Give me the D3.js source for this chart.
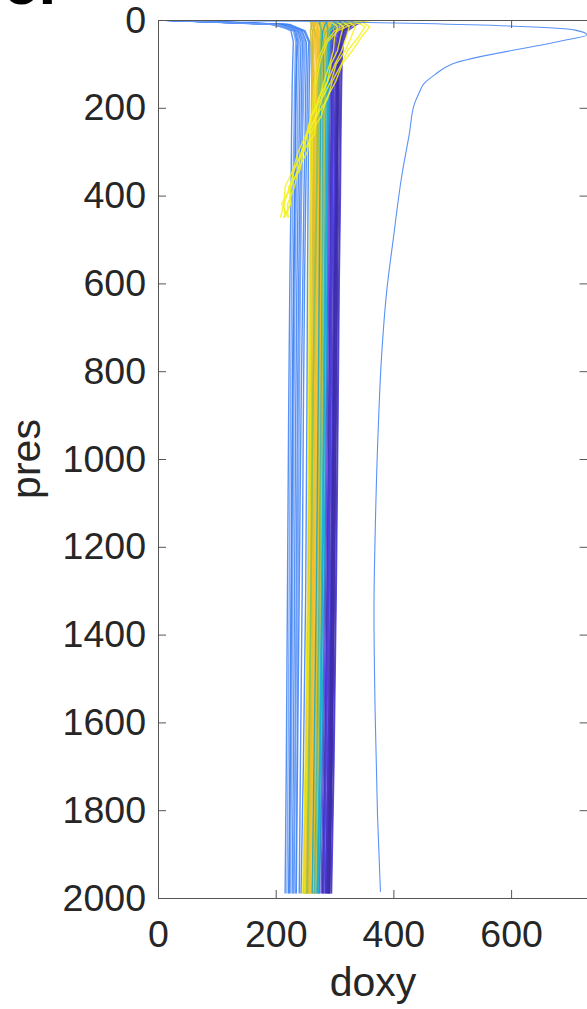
<!DOCTYPE html>
<html>
<head>
<meta charset="utf-8">
<script src="https://cdn.jsdelivr.net/npm/d3@7"></script>
<style>
  body { margin: 0; background: #fff; }
  svg { display: block; font-family: "Liberation Sans", Arial, Helvetica, sans-serif; }
</style>
</head>
<body>
<svg id="chart" width="587" height="1009"></svg>
<script>
// pressure levels (dbar) for the full depth profiles
var PRES = [0, 10, 25, 50, 90, 150, 250, 400, 600, 900, 1300, 1700, 1990];

// doxy values, one row per profile
var BLUE = [
  [2, 205, 226, 230, 229, 228, 227, 226, 224, 222, 220, 218, 216],
  [5, 212, 232, 236, 235, 234, 233, 232, 230, 228, 226, 224, 222],
  [0, 200, 236, 240, 239, 238, 237, 235, 233, 231, 229, 227, 225],
  [8, 215, 238, 243, 242, 241, 240, 238, 236, 234, 232, 230, 228],
  [3, 190, 240, 246, 245, 244, 243, 241, 239, 237, 235, 233, 231],
  [10, 218, 243, 250, 249, 248, 246, 244, 242, 240, 238, 236, 234],
  [0, 208, 245, 252, 252, 251, 250, 248, 246, 243, 240, 237, 235],
  [6, 220, 248, 256, 255, 254, 253, 251, 249, 247, 245, 242, 240],
  [1, 196, 230, 234, 233, 232, 231, 229, 227, 225, 223, 221, 219],
  [12, 224, 250, 258, 258, 257, 256, 255, 254, 253, 251, 247, 243],
  [4, 210, 234, 238, 236, 235, 234, 233, 231, 229, 227, 225, 223],
  [0, 202, 242, 248, 247, 246, 245, 243, 241, 238, 236, 233, 230]
];

var INDIGO = [
  [340, 325, 315, 310, 308, 306, 305, 304, 302, 300, 297, 294, 290],
  [330, 318, 310, 306, 304, 303, 302, 301, 300, 298, 295, 292, 288],
  [320, 312, 306, 302, 300, 299, 298, 297, 296, 294, 291, 288, 284],
  [345, 330, 318, 312, 310, 309, 308, 307, 305, 303, 300, 296, 292],
  [310, 305, 301, 298, 297, 296, 295, 294, 293, 291, 288, 284, 280],
  [335, 322, 312, 308, 306, 305, 304, 303, 301, 299, 296, 293, 289],
  [300, 298, 296, 295, 294, 293, 292, 291, 290, 288, 285, 281, 277],
  [350, 332, 320, 314, 312, 311, 310, 309, 307, 305, 302, 298, 294],
  [315, 308, 304, 300, 299, 298, 297, 296, 295, 293, 290, 286, 282],
  [325, 316, 308, 304, 302, 301, 300, 299, 298, 296, 293, 289, 285],
  [298, 297, 295, 293, 292, 291, 290, 289, 288, 286, 283, 279, 274],
  [342, 328, 316, 311, 309, 307, 306, 305, 304, 302, 299, 295, 291],
  [318, 314, 309, 305, 303, 302, 301, 300, 299, 297, 294, 290, 286],
  [305, 302, 299, 297, 296, 295, 294, 293, 292, 290, 287, 283, 279],
  [355, 338, 322, 315, 313, 312, 311, 310, 308, 306, 303, 299, 295],
  [328, 320, 313, 309, 307, 306, 305, 304, 303, 301, 298, 295, 291],
  [312, 306, 302, 299, 298, 297, 296, 295, 294, 292, 289, 285, 281],
  [338, 326, 314, 307, 305, 304, 303, 302, 300, 298, 295, 291, 287]
];

var OLIVE = [
  [258, 260, 262, 263, 262, 261, 260, 260, 259, 258, 255, 251, 247],
  [264, 261, 259, 260, 261, 262, 262, 262, 261, 260, 257, 253, 249],
  [270, 266, 263, 262, 263, 264, 264, 263, 262, 261, 258, 254, 250],
  [262, 264, 266, 265, 264, 265, 266, 266, 265, 263, 260, 256, 252]
];

var ORANGE = [
  [262, 265, 268, 266, 264, 263, 262, 262, 261, 259, 256, 252, 248],
  [270, 272, 270, 268, 267, 266, 265, 265, 264, 262, 259, 255, 251],
  [278, 275, 273, 271, 270, 269, 268, 267, 266, 264, 261, 257, 253],
  [285, 280, 276, 274, 272, 271, 270, 269, 268, 266, 263, 259, 255],
  [290, 286, 281, 277, 275, 274, 273, 272, 270, 268, 265, 261, 257],
  [295, 288, 283, 280, 278, 276, 275, 274, 272, 270, 267, 263, 259],
  [268, 270, 274, 276, 277, 277, 276, 275, 274, 272, 269, 265, 261],
  [300, 292, 287, 283, 281, 279, 278, 277, 276, 274, 271, 267, 263],
  [282, 284, 286, 285, 283, 281, 280, 279, 278, 276, 273, 269, 265],
  [275, 279, 282, 287, 286, 284, 283, 282, 280, 278, 275, 271, 267],
  [292, 290, 289, 288, 287, 286, 285, 284, 282, 280, 277, 273, 269],
  [265, 267, 263, 262, 261, 262, 263, 264, 265, 264, 262, 258, 254],
  [288, 283, 279, 276, 275, 274, 274, 273, 273, 272, 270, 267, 264],
  [272, 276, 279, 281, 280, 279, 278, 277, 277, 276, 274, 271, 268],
  [298, 294, 290, 286, 284, 283, 282, 281, 279, 277, 274, 271, 270],
  [260, 262, 266, 270, 271, 271, 270, 270, 269, 267, 264, 260, 256],
  [280, 278, 277, 279, 278, 277, 276, 276, 275, 273, 270, 266, 262],
  [286, 288, 285, 282, 280, 279, 279, 278, 277, 275, 272, 268, 264],
  [276, 272, 270, 272, 273, 272, 271, 271, 270, 268, 265, 262, 258],
  [294, 291, 288, 284, 282, 281, 281, 280, 279, 277, 274, 270, 266],
  [284, 281, 284, 281, 279, 278, 277, 276, 275, 273, 270, 266, 262],
  [296, 289, 286, 284, 283, 282, 281, 280, 278, 276, 273, 269, 265],
  [266, 270, 272, 273, 274, 274, 273, 272, 271, 269, 266, 262, 258],
  [279, 283, 281, 280, 279, 278, 277, 277, 276, 274, 271, 268, 265],
  [302, 295, 291, 288, 286, 285, 284, 283, 281, 279, 276, 272, 268],
  [270, 268, 270, 271, 270, 269, 268, 268, 267, 265, 262, 258, 255]
];

var CYAN = [
  [300, 296, 292, 290, 289, 288, 287, 286, 284, 282, 279, 275, 271],
  [310, 300, 294, 292, 291, 290, 289, 288, 287, 285, 282, 278, 274],
  [285, 287, 289, 288, 287, 286, 285, 284, 283, 281, 278, 274, 270],
  [305, 298, 293, 291, 290, 289, 288, 287, 285, 283, 280, 276, 272],
  [272, 275, 278, 280, 281, 281, 280, 280, 279, 277, 274, 270, 266],
  [290, 284, 280, 278, 277, 276, 276, 275, 274, 272, 269, 265, 262]
];

var GREEN = [
  [340, 300, 285, 280, 278, 276, 273, 270, 267, 263, 260, 256, 253],
  [355, 310, 292, 286, 284, 283, 282, 281, 280, 278, 275, 271, 267],
  [275, 276, 277, 276, 275, 273, 271, 269, 266, 263, 260, 257, 254]
];

var YELLOW = [
  [350, 320, 300, 285, 272, 265, 260, 258, 257, 256, 254, 250, 246],
  [365, 330, 305, 288, 276, 268, 263, 261, 260, 259, 257, 253, 249]
];

// short yellow profiles that stop near 450 dbar
var PRES_SHORT = [0, 15, 40, 70, 100, 140, 180, 220, 260, 300, 340, 380, 420, 450];
var YELLOW_SHORT = [
  [330, 352, 340, 322, 312, 296, 288, 268, 266, 246, 242, 222, 226, 213],
  [320, 335, 328, 318, 303, 294, 278, 270, 253, 248, 230, 226, 210, 222],
  [310, 325, 320, 312, 301, 288, 277, 260, 252, 238, 230, 216, 214, 208],
  [300, 315, 310, 305, 294, 288, 272, 268, 254, 244, 232, 224, 214, 216],
  [290, 305, 300, 298, 292, 282, 274, 260, 254, 244, 238, 226, 224, 215],
  [340, 360, 345, 330, 313, 302, 286, 277, 258, 254, 238, 232, 220, 221]
];

// the one profile with the big surface spike
var OUTLIER_PRES = [0, 3, 23, 34, 45, 100, 125, 145, 165, 190, 260, 357, 497, 613, 764, 939, 1171, 1346, 1579, 1811, 1986];
var OUTLIER_DOXY = [0, 240, 709, 729, 695, 500, 470, 452, 444, 436, 427, 414, 400, 389, 380, 374, 369, 367, 369, 373, 378];

var X_TICKS = [0, 200, 400, 600];
var Y_TICKS = [0, 200, 400, 600, 800, 1000, 1200, 1400, 1600, 1800, 2000];

var svg = d3.select("#chart");

var x = d3.scaleLinear().domain([0, 730]).range([158, 587.6]);
var y = d3.scaleLinear().domain([0, 2000]).range([20, 898]);

var line = d3.line()
    .x(d => x(d[1]))
    .y(d => y(d[0]));

svg.append("clipPath").attr("id", "plotclip")
  .append("rect")
    .attr("x", x(0)).attr("y", y(0))
    .attr("width", x(730) - x(0)).attr("height", y(2000) - y(0));

var groups = [
  {rows: BLUE, pres: PRES, color: i => i % 3 == 2 ? "#6d9ef8" : "#3a7ff5"},
  {rows: INDIGO, pres: PRES, color: i => i % 2 ? "#3b2aa8" : "#4637dc"},
  {rows: OLIVE, pres: PRES, color: () => "#c6b82e"},
  {rows: ORANGE, pres: PRES, color: i => i % 4 == 3 ? "#dcbc2a" : "#f7c12b"},
  {rows: CYAN, pres: PRES, color: i => i % 2 ? "#14a9c9" : "#1bb0e0"},
  {rows: GREEN, pres: PRES, color: () => "#86c65a"},
  {rows: YELLOW, pres: PRES, color: () => "#ece51e"},
  {rows: YELLOW_SHORT, pres: PRES_SHORT, color: () => "#f5f21c"}
];

var plot = svg.append("g").attr("clip-path", "url(#plotclip)");

groups.forEach(g => {
  plot.append("g")
    .selectAll("path")
    .data(g.rows).enter()
    .append("path")
      .attr("d", r => line(d3.zip(g.pres, r)))
      .attr("fill", "none")
      .attr("stroke", (r, i) => g.color(i))
      .attr("stroke-width", 1.4)
      .attr("stroke-opacity", 0.85)
      .attr("stroke-linejoin", "round");
});

plot.append("path")
    .attr("d", d3.line().curve(d3.curveMonotoneY).x(d => x(d[1])).y(d => y(d[0]))(d3.zip(OUTLIER_PRES, OUTLIER_DOXY)))
    .attr("fill", "none")
    .attr("stroke", "#5a92f7")
    .attr("stroke-width", 1.1);

// axes, matlab style box with inward ticks
function styleAxis(g) {
  g.attr("font-size", null).attr("font-family", null);
  g.select(".domain").attr("stroke", "#555");
  g.selectAll(".tick line").attr("stroke", "#555");
  g.selectAll(".tick text").attr("fill", "#262626").style("font-size", "37.5px");
}

svg.append("g")
    .attr("transform", "translate(158,0)")
    .call(d3.axisLeft(y).tickValues(Y_TICKS).tickFormat(d3.format("d")).tickSize(-8).tickSizeOuter(0).tickPadding(12))
    .call(styleAxis);

svg.append("g")
    .attr("transform", "translate(587.6,0)")
    .call(d3.axisRight(y).tickValues(Y_TICKS).tickSize(-8).tickSizeOuter(0).tickFormat(""))
    .call(styleAxis);

svg.append("g")
    .attr("transform", "translate(0,898)")
    .call(d3.axisBottom(x).tickValues(X_TICKS).tickFormat(d3.format("d")).tickSize(-8).tickSizeOuter(0).tickPadding(22))
    .call(styleAxis);

svg.append("g")
    .attr("transform", "translate(0,20)")
    .call(d3.axisTop(x).tickValues(X_TICKS).tickSize(-8).tickSizeOuter(0).tickFormat(""))
    .call(styleAxis);

svg.append("text")
    .attr("x", 373).attr("y", 996)
    .attr("text-anchor", "middle")
    .attr("fill", "#262626")
    .style("font-size", "41px")
    .text("doxy");

svg.append("text")
    .attr("transform", "translate(40,459) rotate(-90)")
    .attr("text-anchor", "middle")
    .attr("fill", "#262626")
    .style("font-size", "41px")
    .text("pres");

// panel label, mostly cut off at the top of the figure (as in the source image)
svg.append("text")
    .attr("x", 3).attr("y", 4)
    .attr("fill", "#000")
    .style("font-size", "64px")
    .style("font-weight", "bold")
    .text("c.");
</script>
</body>
</html>
